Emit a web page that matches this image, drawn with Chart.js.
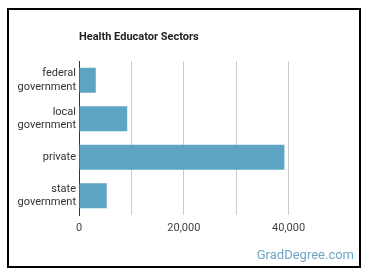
<!DOCTYPE html>
<html>
<head>
<meta charset="utf-8">
<script src="https://cdn.jsdelivr.net/npm/chart.js@4/dist/chart.umd.min.js"></script>
<style>
html,body{margin:0;padding:0;background:#fff;}
#wrap{width:370px;height:278px;position:relative;}
</style>
</head>
<body>
<div id="wrap"><canvas id="c" width="370" height="278"></canvas></div>
<script>
const title = 'Health Educator Sectors';
const categories = [['federal','government'],['local','government'],['private'],['state','government']];
const values = [3200, 9200, 39200, 5300];
const tickLabels = {0:'0', 20000:'20,000', 40000:'40,000'};
const watermark = 'GradDegree.com';

const decor = {
  id:'decor',
  beforeDraw(chart){
    const c = chart.ctx;
    c.save();
    c.fillStyle = '#fff';
    c.fillRect(0,0,chart.width,chart.height);
    c.restore();
  },
  afterDraw(chart){
    const c = chart.ctx;
    c.save();
    c.strokeStyle = '#000';
    c.lineWidth = 2;
    c.strokeRect(8, 9, 352, 258);
    c.fillStyle = '#222';
    c.font = 'bold 11px Roboto';
    c.textBaseline = 'middle';
    c.textAlign = 'left';
    c.fillText(title, chart.chartArea.left, 37);
    c.fillStyle = '#6fa6c6';
    c.font = '13px Roboto';
    c.textAlign = 'right';
    c.fillText(watermark, 354, 256);
    c.restore();
  }
};

new Chart(document.getElementById('c'), {
  type:'bar',
  data:{
    labels: categories,
    datasets:[{data: values, backgroundColor:'#5ea4c3', borderWidth:0, barPercentage:0.65, categoryPercentage:1}]
  },
  options:{
    indexAxis:'y',
    responsive:false,
    animation:false,
    devicePixelRatio:1,
    layout:{padding:{top:61, left:0, right:29, bottom:43}},
    plugins:{legend:{display:false}, title:{display:false}, tooltip:{enabled:false}},
    scales:{
      x:{
        min:0, max:50000,
        afterFit(s){ s.height = 20; },
        grid:{drawTicks:false, color:(ctx)=> ctx.tick && ctx.tick.value===50000 ? 'rgba(0,0,0,0)' : '#cccccc', lineWidth:1},
        border:{display:false},
        ticks:{stepSize:10000, padding:7, color:'#444', font:{family:'Roboto', size:11},
          callback:(v)=> tickLabels[v] !== undefined ? tickLabels[v] : ''}
      },
      y:{
        afterFit(s){ s.width = 79; },
        grid:{display:false, drawTicks:false},
        border:{display:true, color:'#333', width:1},
        ticks:{padding:3, color:'#333', font:{family:'Roboto', size:11, lineHeight:1.25}}
      }
    }
  },
  plugins:[decor]
});
</script>
</body>
</html>
